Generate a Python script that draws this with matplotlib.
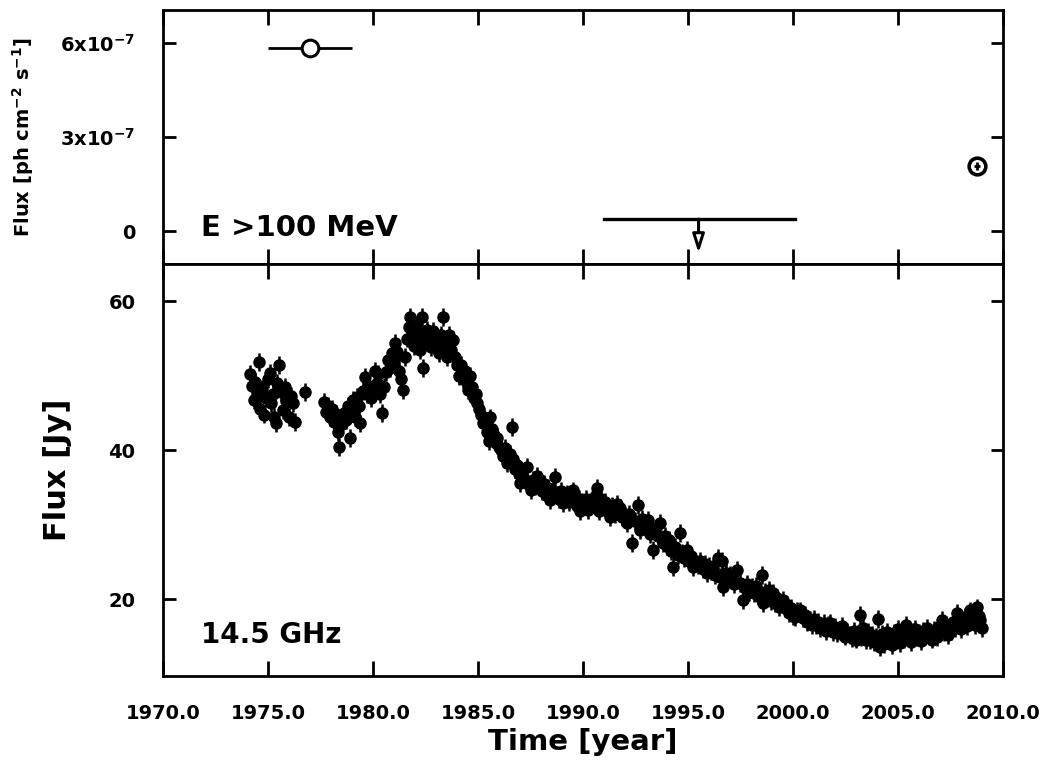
import matplotlib
matplotlib.use('Agg')
import matplotlib.pyplot as plt

plt.rcParams['font.family'] = ['DejaVu Sans']
plt.rcParams['font.weight'] = 'bold'
plt.rcParams['mathtext.fontset'] = 'dejavusans'
plt.rcParams['mathtext.default'] = 'bf'

# gamma-ray (E > 100 MeV) points
gam_year = [1977.0, 2008.76]
gam_xerr = [2.0, 0.15]
gam_flux = [5.84e-7, 2.07e-7]
gam_yerr = [0.0, 0.12e-7]
# upper limit
ul_year = 1995.5
ul_start = 1991.0
ul_end = 2000.1
ul_flux = 0.38e-7
ul_tip = -0.70e-7

# 14.5 GHz light curve
radio_year = [
    1974.15, 1974.25, 1974.35, 1974.4, 1974.5, 1974.55, 1974.6, 1974.7, 1974.8, 1974.9,
    1975.0, 1975.1, 1975.15, 1975.25, 1975.3, 1975.4, 1975.45, 1975.52, 1975.6, 1975.7,
    1975.8, 1975.85, 1976.0, 1976.1, 1976.2, 1976.3, 1976.76,
    1977.65, 1977.75, 1977.85, 1977.95, 1978.05, 1978.15, 1978.25, 1978.35, 1978.4, 1978.5,
    1978.6, 1978.7, 1978.8, 1978.9, 1979.0, 1979.05, 1979.15, 1979.25, 1979.35, 1979.4,
    1979.5, 1979.6, 1979.7, 1979.8, 1979.9, 1980.0, 1980.1, 1980.2, 1980.24, 1980.35,
    1980.45, 1980.5, 1980.6, 1980.7, 1980.8, 1980.9, 1981.0, 1981.05, 1981.15, 1981.25,
    1981.35, 1981.43, 1981.5,
    1981.6, 1981.7, 1981.76, 1981.85, 1981.95, 1982.05, 1982.15, 1982.25, 1982.33, 1982.4,
    1982.45, 1982.57, 1982.65, 1982.75, 1982.85, 1982.95, 1983.05, 1983.15, 1983.25, 1983.33,
    1983.42, 1983.5, 1983.6, 1983.7, 1983.8, 1983.9, 1984.0, 1984.1, 1984.2, 1984.3,
    1984.4, 1984.5, 1984.6, 1984.7, 1984.8, 1984.9, 1984.95,
    1985.05, 1985.15, 1985.24, 1985.35, 1985.45, 1985.5, 1985.57, 1985.65, 1985.75, 1985.85,
    1985.9, 1986.0, 1986.1, 1986.2, 1986.3, 1986.38, 1986.5, 1986.6, 1986.65, 1986.75,
    1986.85, 1986.95, 1987.0, 1987.1, 1987.2, 1987.33, 1987.4, 1987.5, 1987.6, 1987.7,
    1987.8, 1987.95, 1988.05, 1988.15, 1988.25, 1988.35, 1988.43, 1988.55, 1988.67, 1988.75,
    1988.85, 1988.95, 1989.05, 1989.15, 1989.25, 1989.35, 1989.5, 1989.6, 1989.7, 1989.8,
    1989.86, 1989.95,
    1990.05, 1990.15, 1990.25, 1990.35, 1990.5, 1990.6, 1990.67, 1990.75, 1990.85, 1990.95,
    1991.05, 1991.15, 1991.3, 1991.4, 1991.5, 1991.6, 1991.76, 1991.85, 1991.95, 1992.1,
    1992.2, 1992.33, 1992.45, 1992.6, 1992.7, 1992.8, 1992.9, 1993.0, 1993.1, 1993.2,
    1993.33, 1993.45, 1993.55, 1993.67, 1993.8, 1993.9, 1994.0, 1994.1, 1994.2, 1994.3,
    1994.4, 1994.5, 1994.6, 1994.7, 1994.8, 1994.95, 1995.05, 1995.15, 1995.24, 1995.35,
    1995.45, 1995.57, 1995.7, 1995.8, 1995.9, 1996.0, 1996.1, 1996.2, 1996.3, 1996.43,
    1996.5, 1996.6, 1996.67, 1996.8, 1996.9, 1997.0, 1997.1, 1997.2, 1997.33, 1997.45,
    1997.6, 1997.7, 1997.8, 1997.9, 1998.05, 1998.15, 1998.25, 1998.35, 1998.5, 1998.55,
    1998.65, 1998.75, 1998.85, 1998.95, 1999.05, 1999.15, 1999.25, 1999.35, 1999.5, 1999.6,
    1999.7, 1999.8, 1999.9, 2000.0, 2000.1, 2000.2, 2000.33, 2000.45, 2000.55, 2000.65,
    2000.8, 2000.9, 2001.0, 2001.1, 2001.2, 2001.3, 2001.45, 2001.55, 2001.65, 2001.76,
    2001.9, 2002.0, 2002.1, 2002.24, 2002.35, 2002.45, 2002.55, 2002.7, 2002.8, 2002.9,
    2003.0, 2003.1,
    2003.2, 2003.25, 2003.33, 2003.45, 2003.55, 2003.67, 2003.75, 2003.85, 2003.95, 2004.05,
    2004.14, 2004.25, 2004.35, 2004.45, 2004.6, 2004.7, 2004.8, 2004.9, 2005.0, 2005.1,
    2005.2, 2005.3, 2005.4, 2005.5, 2005.6, 2005.7, 2005.8, 2005.9, 2006.0, 2006.1,
    2006.2, 2006.3, 2006.4, 2006.5, 2006.6, 2006.7, 2006.86, 2006.95, 2007.1, 2007.2,
    2007.3, 2007.4, 2007.5, 2007.6, 2007.7, 2007.8, 2007.9, 2008.0, 2008.1, 2008.2,
    2008.3, 2008.43, 2008.55, 2008.65, 2008.76, 2008.85, 2008.9, 2009.0,
]
radio_flux = [
    50.3, 48.6, 46.7, 49.2, 47.6, 51.8, 45.5, 48.2, 44.8, 47.0,
    49.6, 50.4, 46.3, 47.5, 44.5, 43.6, 49.0, 51.4, 47.8, 45.4,
    48.5, 46.6, 44.5, 47.3, 46.3, 43.8, 47.8,
    46.5, 45.2, 46.0, 44.4, 45.5, 43.8, 44.9, 42.5, 40.4, 43.5,
    45.0, 44.0, 46.0, 41.7, 45.2, 46.7, 44.5, 47.2, 46.0, 43.6,
    48.0, 49.8, 47.5, 48.6, 47.0, 48.1, 50.7, 49.0, 50.3, 47.5,
    45.0, 48.5, 50.5, 52.1, 51.0, 53.0, 52.0, 54.4, 53.2, 50.7,
    49.5, 48.1, 52.5,
    55.0, 56.5, 57.9, 55.2, 54.0, 56.5, 55.5, 53.5, 57.9, 51.1,
    54.5, 56.1, 55.0, 53.8, 56.0, 54.5, 54.8, 53.0, 55.5, 57.9,
    54.0, 52.5, 55.5, 53.5, 54.8, 52.5, 51.5, 50.0, 51.5, 49.5,
    50.7, 48.1, 50.0, 48.5, 47.0, 47.5, 46.3,
    45.5, 44.8, 43.6, 44.0, 42.5, 41.3, 44.4, 42.8, 42.0, 41.0,
    41.7, 40.5, 40.0, 39.2, 40.3, 38.3, 39.5, 43.1, 38.8, 37.5,
    38.0, 36.8, 35.6, 37.0, 36.2, 37.7, 35.5, 34.6, 36.0, 35.2,
    36.5, 36.0, 34.5, 35.5, 34.0, 35.0, 33.3, 34.5, 36.4, 34.0,
    33.5, 34.5, 32.9, 33.8, 34.2, 33.0, 34.6, 33.0, 32.5, 33.5,
    31.9, 33.0,
    32.5, 33.5, 32.0, 33.0, 33.3, 34.0, 34.9, 31.9, 33.5, 32.5,
    33.0, 31.8, 31.0, 32.5, 31.5, 32.8, 32.3, 31.0, 31.5, 30.2,
    31.5, 27.5, 30.5, 32.6, 29.3, 30.8, 29.8, 30.2, 30.6, 28.8,
    26.6, 29.5, 28.5, 30.2, 27.5, 28.5, 27.2, 28.0, 26.5, 24.3,
    27.0, 26.0, 28.9, 26.2, 25.5, 26.6, 25.2, 25.8, 24.3, 25.0,
    24.6, 25.2, 24.0, 24.8, 23.5, 24.5, 23.8, 24.2, 23.2, 25.6,
    23.0, 25.2, 21.6, 23.5, 22.8, 23.3, 22.6, 22.0, 23.9, 22.2,
    19.9, 21.5, 22.0, 21.0, 21.6, 20.8, 21.8, 20.5, 23.2, 19.5,
    21.0, 20.2, 21.2, 19.8, 20.8, 19.5, 20.2, 19.0, 19.9, 18.8,
    19.2, 18.2, 18.8, 17.8, 17.6, 18.4, 18.5, 17.5, 17.9, 17.0,
    17.2, 16.6, 17.4, 16.5, 17.0, 16.2, 16.8, 15.8, 16.5, 16.8,
    15.6, 16.3, 15.5, 15.8, 16.4, 15.0, 15.6, 15.2, 14.8, 15.8,
    14.6, 15.4,
    17.9, 14.9, 16.2, 14.5, 15.6, 14.5, 15.2, 14.2, 15.0, 17.4,
    13.6, 15.4, 14.0, 15.6, 14.9, 13.8, 15.5, 14.5, 16.0, 14.1,
    15.3, 14.6, 16.5, 15.0, 14.2, 15.6, 16.0, 14.9, 15.5, 14.4,
    15.8, 15.0, 16.2, 15.4, 14.6, 15.9, 14.9, 16.3, 17.2, 15.6,
    16.6, 15.2, 15.8, 16.9, 16.2, 18.1, 17.0, 16.0, 16.8, 17.6,
    16.4, 18.5, 17.4, 16.6, 18.9, 17.8, 17.2, 16.1,
]
radio_err = 1.2

fig = plt.figure(figsize=(10.6, 7.63), dpi=100)
ax1 = fig.add_axes([0.1538, 0.654, 0.7925, 0.333])
ax2 = fig.add_axes([0.1538, 0.114, 0.7925, 0.540], sharex=ax1)

# top panel
ax1.errorbar(gam_year[0], gam_flux[0], xerr=gam_xerr[0], fmt='o', mfc='white', mec='black',
             ecolor='black', ms=12, mew=2.2, elinewidth=2, capsize=0)
ax1.errorbar(gam_year[1], gam_flux[1], xerr=gam_xerr[1], yerr=gam_yerr[1], fmt='o', mfc='none',
             mec='black', ecolor='black', ms=12, mew=2.6, elinewidth=2, capsize=0)
ax1.plot([ul_start, ul_end], [ul_flux, ul_flux], color='black', lw=2.4)
ax1.annotate('', xy=(ul_year, ul_tip), xytext=(ul_year, ul_flux),
             arrowprops=dict(arrowstyle='-|>,head_width=0.35,head_length=1.1',
                             fc='white', ec='black', lw=2.2, shrinkA=0, shrinkB=0))
ax1.set_ylim(-1.05e-7, 7.05e-7)
ax1.set_yticks([0, 3e-7, 6e-7])
ax1.set_yticklabels(['0', r'3x10$^{-7}$', r'6x10$^{-7}$'])
ax1.text(0.045, 0.11, 'E >100 MeV', transform=ax1.transAxes, fontsize=21, fontweight='bold')
ax1.set_ylabel(r'Flux [ph cm$^{-2}$ s$^{-1}$]', fontsize=14, fontweight='bold', labelpad=17)
plt.setp(ax1.get_xticklabels(), visible=False)

# bottom panel
ax2.errorbar(radio_year, radio_flux, yerr=radio_err, fmt='o', color='black', ms=8,
             elinewidth=1.8, capsize=0)
ax2.set_ylim(9.7, 65)
ax2.set_yticks([20, 40, 60])
ax2.set_xlim(1970, 2010)
ax2.set_xticks([1970, 1975, 1980, 1985, 1990, 1995, 2000, 2005, 2010])
ax2.set_xticklabels(['%.1f' % v for v in [1970, 1975, 1980, 1985, 1990, 1995, 2000, 2005, 2010]])
ax2.text(0.045, 0.08, '14.5 GHz', transform=ax2.transAxes, fontsize=20, fontweight='bold')
ax2.set_ylabel('Flux [Jy]', fontsize=22, fontweight='bold', labelpad=26)
ax2.set_xlabel('Time [year]', fontsize=21, fontweight='bold', labelpad=4)

for ax in (ax1, ax2):
    for s in ax.spines.values():
        s.set_linewidth(2.0)
    ax.tick_params(axis='x', which='major', direction='in', top=True, bottom=True,
                   length=11, width=2, labelsize=14, pad=20)
    ax.tick_params(axis='y', which='major', direction='in', left=True, right=True,
                   length=9, width=2, labelsize=14, pad=20)
    for lab in ax.get_xticklabels() + ax.get_yticklabels():
        lab.set_fontweight('bold')

fig.savefig('out.png', dpi=100)
